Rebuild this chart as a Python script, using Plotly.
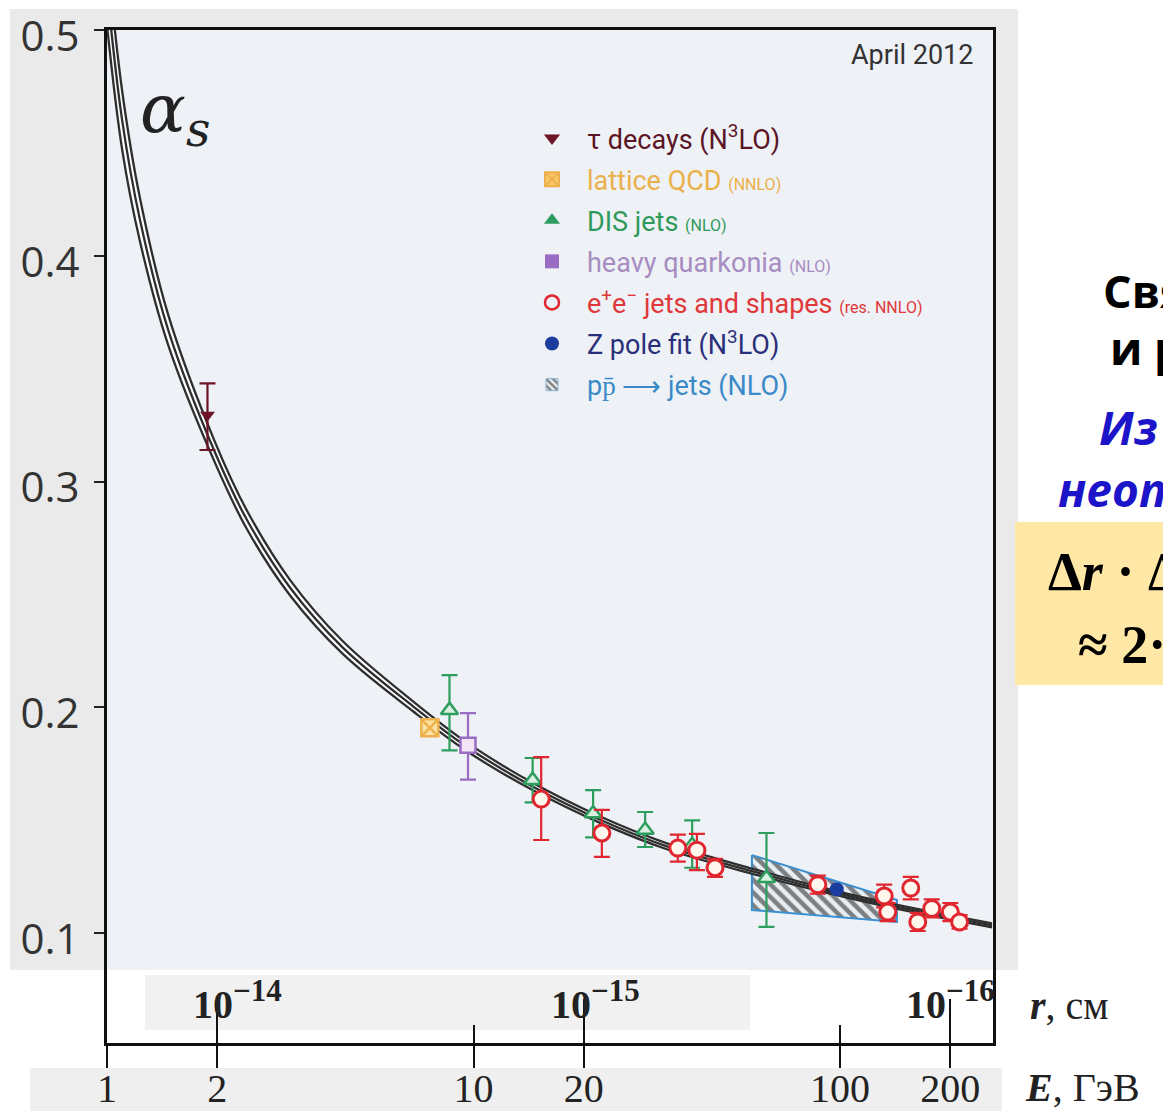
import math
import plotly.graph_objects as go

# ---------------- data ----------------
curve_E = [1.00, 1.10, 1.23, 1.47, 1.97, 2.41, 3.16, 4.40, 6.84, 9.6, 14.5, 22, 33.7, 60, 91, 150, 260]
curve_mid = [0.518, 0.460, 0.416, 0.367, 0.313, 0.283, 0.253, 0.2265, 0.2005, 0.1825, 0.165, 0.1505, 0.1385, 0.1267, 0.119, 0.111, 0.1035]
curve_hi = [0.534, 0.473, 0.4256, 0.3737, 0.3176, 0.2871, 0.2564, 0.2293, 0.2027, 0.1844, 0.1666, 0.1519, 0.1398, 0.1278, 0.1199, 0.1119, 0.1044]
curve_lo = [0.502, 0.447, 0.4064, 0.3603, 0.3084, 0.2789, 0.2496, 0.2237, 0.1983, 0.1806, 0.1634, 0.1491, 0.1372, 0.1256, 0.1181, 0.1101, 0.1026]

tau_E = [1.88]
tau_a = [0.3295]
tau_up = [0.014]
tau_dn = [0.0155]

lat_E = [7.6]
lat_a = [0.191]

dis_E = [8.6, 14.5, 21.2, 29.4, 39.5, 63]
dis_a = [0.1988, 0.1678, 0.153, 0.1457, 0.139, 0.1244]
dis_up = [0.0155, 0.0098, 0.0104, 0.008, 0.011, 0.020]
dis_dn = [0.0178, 0.0098, 0.0105, 0.0075, 0.010, 0.0216]

hq_E = [9.66]
hq_a = [0.1833]
hq_up = [0.0142]
hq_dn = [0.0153]

ee_E = [15.3, 22.4, 36.1, 40.7, 45.6, 87, 132, 135, 156, 163, 178, 200, 212]
ee_a = [0.1594, 0.1444, 0.1377, 0.1368, 0.129, 0.1215, 0.1165, 0.1094, 0.120, 0.105, 0.111, 0.1094, 0.105]
ee_up = [0.0186, 0.0102, 0.006, 0.0072, 0.004, 0.004, 0.005, 0.004, 0.005, 0.004, 0.004, 0.004, 0.003]
ee_dn = [0.0181, 0.0106, 0.006, 0.0088, 0.004, 0.004, 0.005, 0.004, 0.005, 0.004, 0.004, 0.004, 0.003]

z_E = [98]
z_a = [0.1195]

ppbar_E = [57.5, 143, 143, 57.5, 57.5]
ppbar_a = [0.1346, 0.1147, 0.1050, 0.1103, 0.1346]

E_ticks = [1, 2, 10, 20, 100, 200]
E_ticktext = ["1", "2", "10", "20", "100", "200"]
r_E = [2, 20, 200]
r_exp = ["−14", "−15", "−16"]
y_ticks = [0.1, 0.2, 0.3, 0.4, 0.5]
y_ticktext = ["0.1", "0.2", "0.3", "0.4", "0.5"]

# ---------------- colours ----------------
C_TAU = "#6e1426"
C_LAT = "#eeb04a"
C_DIS = "#2e9e5e"
C_HQ = "#9a6cc2"
C_EE = "#e0262e"
C_Z = "#1a3c9e"
C_PP = "#3a8fd0"
C_CURVE = "#2e2e2e"

# ---------------- geometry (page pixels; page body has an 8px margin) ----------------
OFF = 8
W, H = 1171 - OFF, 1119 - 2 * OFF
L, R, T, B = 107, 993, 30, 1043   # plot area in page pixels


def px(xp):
    return (xp - L) / (R - L)


def py(yp):
    return (B - yp) / (B - T)


fig = go.Figure()

# pp-bar hatched region
fig.add_trace(go.Scatter(
    x=ppbar_E, y=ppbar_a, mode="lines", fill="toself",
    line=dict(color=C_PP, width=2),
    fillcolor="rgba(0,0,0,0)",
    fillpattern=dict(shape="\\", fgcolor="#111111", bgcolor="#e9eef3", size=9, solidity=0.5),
    showlegend=False, hoverinfo="skip"))

# running coupling band
line_style = dict(color=C_CURVE, width=2.3, shape="spline", smoothing=1.0)
fig.add_trace(go.Scatter(x=curve_E, y=curve_lo, mode="lines", line=line_style,
                         showlegend=False, hoverinfo="skip"))
fig.add_trace(go.Scatter(x=curve_E, y=curve_mid, mode="lines", line=line_style,
                         fill="tonexty", fillcolor="rgba(255,255,255,0.75)", showlegend=False, hoverinfo="skip"))
fig.add_trace(go.Scatter(x=curve_E, y=curve_hi, mode="lines", line=line_style,
                         fill="tonexty", fillcolor="rgba(255,255,255,0.75)", showlegend=False, hoverinfo="skip"))


def err(up, dn, color):
    return dict(type="data", symmetric=False, array=up, arrayminus=dn, color=color, thickness=2.2, width=8)


# data points
fig.add_trace(go.Scatter(x=tau_E, y=tau_a, mode="markers", showlegend=False,
                         marker=dict(symbol="triangle-down", size=13, color=C_TAU),
                         error_y=err(tau_up, tau_dn, C_TAU)))
fig.add_trace(go.Scatter(x=lat_E, y=lat_a, mode="markers", showlegend=False,
                         marker=dict(symbol="square-x", size=17, color="#fbe2a4", line=dict(color=C_LAT, width=2.5))))
fig.add_trace(go.Scatter(x=dis_E, y=dis_a, mode="markers", showlegend=False,
                         marker=dict(symbol="triangle-up", size=15, color="#d9f0e2", line=dict(color=C_DIS, width=2.5)),
                         error_y=err(dis_up, dis_dn, C_DIS)))
fig.add_trace(go.Scatter(x=hq_E, y=hq_a, mode="markers", showlegend=False,
                         marker=dict(symbol="square", size=15, color="#f3e4f7", line=dict(color=C_HQ, width=2.5)),
                         error_y=err(hq_up, hq_dn, C_HQ)))
fig.add_trace(go.Scatter(x=ee_E, y=ee_a, mode="markers", showlegend=False,
                         marker=dict(symbol="circle", size=16, color="#fff6ee", line=dict(color=C_EE, width=3)),
                         error_y=err(ee_up, ee_dn, C_EE)))
fig.add_trace(go.Scatter(x=z_E, y=z_a, mode="markers", showlegend=False,
                         marker=dict(symbol="circle", size=14, color=C_Z)))

# legend-only entries
S = 'font-size:16px'
leg = [
    ("triangle-down", C_TAU, None, '<span style="color:#5b1525">τ decays (N<sup>3</sup>LO)</span>'),
    ("square-x", "#f6c66a", C_LAT, f'<span style="color:#eab04a">lattice QCD </span><span style="color:#eab04a;{S}">(NNLO)</span>'),
    ("triangle-up", C_DIS, None, f'<span style="color:#2f9a5a">DIS jets </span><span style="color:#2f9a5a;{S}">(NLO)</span>'),
    ("square", C_HQ, None, f'<span style="color:#a68cc0">heavy quarkonia </span><span style="color:#a68cc0;{S}">(NLO)</span>'),
    ("circle-open", C_EE, None, f'<span style="color:#e0383a">e<sup>+</sup>e<sup>−</sup> jets and shapes </span><span style="color:#e0383a;{S}">(res. NNLO)</span>'),
    ("circle", C_Z, None, '<span style="color:#2a2f7a">Z pole fit (N<sup>3</sup>LO)</span>'),
]
for i, (sym, col, lcol, name) in enumerate(leg):
    mk = dict(symbol=sym, size=14, color=col)
    if lcol:
        mk["line"] = dict(color=lcol, width=2)
    if sym == "circle-open":
        mk["line"] = dict(color=col, width=2.5)
    fig.add_trace(go.Scatter(x=[None], y=[None], mode="markers", marker=mk, name=name,
                             legendgroup=f"g{i}", legendrank=i + 1, hoverinfo="skip"))
fig.add_trace(go.Bar(x=[None], y=[None], name='<span style="color:#3a8ac8">pp̄ ⟶ jets (NLO)</span>',
                     marker=dict(color="#e9eef3", line=dict(color="#8ab0d0", width=1),
                                 pattern=dict(shape="\\", fgcolor="#111111", size=6, solidity=0.5)),
                     legendgroup="g7", legendrank=7, hoverinfo="skip"))

# dummy traces hosting the extra tick axes
fig.add_trace(go.Scatter(x=[None], y=[None], xaxis="x2", showlegend=False, hoverinfo="skip"))
fig.add_trace(go.Scatter(x=[None], y=[None], xaxis="x3", showlegend=False, hoverinfo="skip"))

xrange = [0, math.log10(261.5)]
yrange = [0.0514, 0.5]

shapes = [
    dict(type="rect", xref="paper", yref="paper", x0=px(10), x1=px(1018), y0=py(970), y1=py(9),
         fillcolor="#eaeaeb", line=dict(width=0), layer="below"),
    dict(type="rect", xref="paper", yref="paper", x0=px(L), x1=px(R), y0=py(970), y1=py(T),
         fillcolor="#eef1f6", line=dict(width=0), layer="below"),
    dict(type="rect", xref="paper", yref="paper", x0=px(145), x1=px(750), y0=py(1030), y1=py(975),
         fillcolor="#f1f1f1", line=dict(width=0), layer="below"),
    dict(type="rect", xref="paper", yref="paper", x0=px(30), x1=px(1002), y0=py(1117), y1=py(1068),
         fillcolor="#efefef", line=dict(width=0), layer="below"),
    dict(type="rect", xref="paper", yref="paper", x0=px(1015), x1=px(1200), y0=py(685), y1=py(522),
         fillcolor="#ffe8a6", line=dict(width=0), layer="below"),
]


def ann(xp, yp, text, size, family, color="#222", xanchor="center"):
    return dict(x=px(xp), y=py(yp), xref="paper", yref="paper", text=text, showarrow=False,
                xanchor=xanchor, yanchor="middle", font=dict(family=family, size=size, color=color))


annotations = []
r_shift = [20, 12, 0]
for e, ex, sh in zip(r_E, r_exp, r_shift):
    annotations.append(dict(x=math.log10(e), y=py(1000), xref="x", yref="paper",
                            text=f'<b>10<sup><span style="font-size:31px">{ex}</span></sup></b>',
                            showarrow=False, xanchor="center", yanchor="middle", xshift=sh,
                            font=dict(family="Liberation Serif", size=40, color="#222")))
annotations += [
    ann(138, 113, "<i>α<sub>s</sub></i>", 68, "DejaVu Serif", xanchor="left"),
    ann(912, 55, "April 2012", 27, "Roboto", "#333"),
    ann(1028, 1005, "<b><i>r</i></b>, см", 40, "Liberation Serif", xanchor="left"),
    ann(1023, 1087, "<b><i>E</i></b>, ГэВ", 40, "Liberation Serif", xanchor="left"),
    ann(1101, 290, "<b>Связь</b>", 45, "Open Sans", "#000", xanchor="left"),
    ann(1108, 347, "<b>и размера</b>", 45, "Open Sans", "#000", xanchor="left"),
    ann(1097, 427, "<b><i>Из соотношения</i></b>", 46, "Open Sans", "#1c14c8", xanchor="left"),
    ann(1056, 489, "<b><i>неопределённостей</i></b>", 46, "Open Sans", "#1c14c8", xanchor="left"),
    ann(1046, 572, "<b>Δ<i>r</i> · Δ<i>E</i></b>", 54, "Liberation Serif", "#000", xanchor="left"),
    ann(1076, 640, "<b>≈ 2·10<sup>−14</sup> ГэВ·см</b>", 54, "Liberation Serif", "#000", xanchor="left"),
]

fig.update_layout(
    width=W, height=H, autosize=False,
    margin=dict(l=L - OFF, r=1171 - R, t=T - OFF, b=(H + OFF) - B, pad=0, autoexpand=False),
    paper_bgcolor="white", plot_bgcolor="rgba(0,0,0,0)",
    showlegend=True,
    legend=dict(x=px(517), y=py(114), xanchor="left", yanchor="top", bgcolor="rgba(0,0,0,0)",
                font=dict(family="Roboto", size=27), tracegroupgap=3, itemwidth=60,
                traceorder="grouped"),
    xaxis=dict(type="log", range=xrange, tickvals=E_ticks, ticktext=E_ticktext,
               ticks="outside", ticklen=22, tickwidth=2, tickcolor="#111",
               showline=True, linecolor="#111", linewidth=3, mirror=True,
               showgrid=False, zeroline=False, ticklabelstandoff=-14, automargin=False,
               ticklabeloverflow="allow",
               tickfont=dict(family="Liberation Serif", size=40, color="#222")),
    xaxis2=dict(type="log", range=xrange, overlaying="x", anchor="y", side="bottom",
                tickvals=r_E, ticks="inside", ticklen=44, tickwidth=2, tickcolor="#111",
                showticklabels=False, showline=False, showgrid=False, zeroline=False, automargin=False),
    xaxis3=dict(type="log", range=xrange, overlaying="x", anchor="y", side="bottom",
                tickvals=[10, 100], ticks="inside", ticklen=18, tickwidth=2, tickcolor="#111",
                showticklabels=False, showline=False, showgrid=False, zeroline=False, automargin=False),
    yaxis=dict(range=yrange, tickvals=y_ticks, ticktext=y_ticktext,
               ticks="outside", ticklen=10, tickwidth=2, tickcolor="#222",
               showline=True, linecolor="#111", linewidth=3, mirror=True,
               showgrid=False, zeroline=False, ticklabelstandoff=6, automargin=False,
               ticklabeloverflow="allow", ticklabelshift=6,
               tickfont=dict(family="Open Sans", size=42, color="#333")),
    barmode="overlay",
    shapes=shapes,
    annotations=annotations,
)

fig.write_html("out.html")
